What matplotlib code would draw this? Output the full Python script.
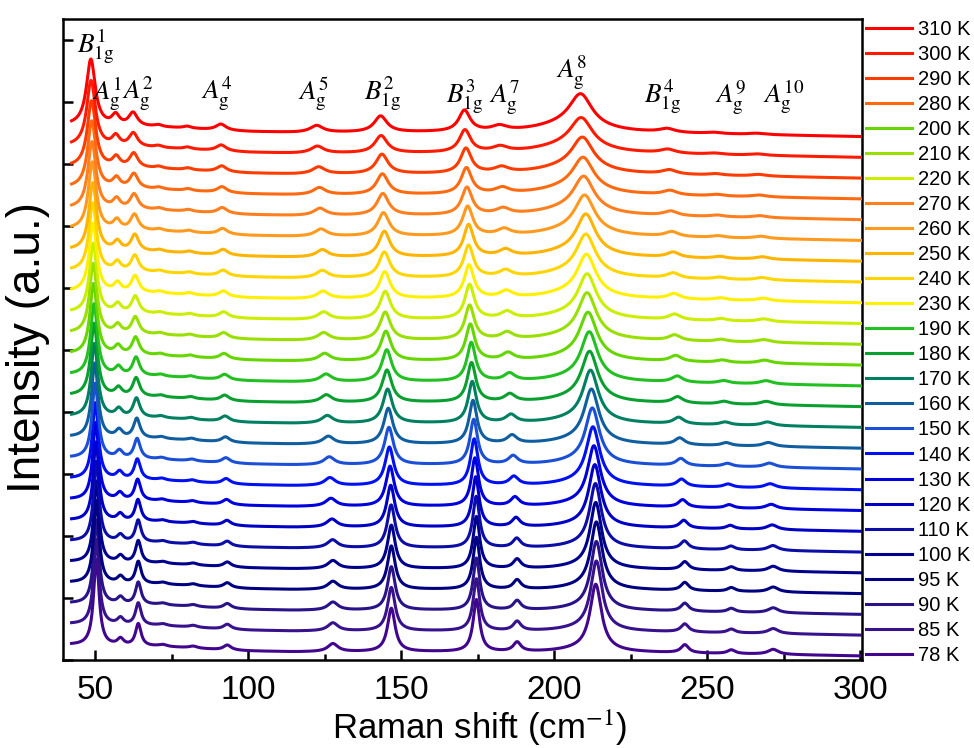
import numpy as np
import matplotlib.pyplot as plt
from matplotlib.lines import Line2D

plt.rcParams['font.family'] = ['Liberation Sans', 'DejaVu Sans']
plt.rcParams['mathtext.fontset'] = 'stix'

# temperatures, bottom curve first
temps = [78, 85, 90, 95, 100, 110, 120, 130, 140, 150, 160, 170, 180, 190,
         200, 210, 220, 230, 240, 250, 260, 270, 280, 290, 300, 310]

colors = {310: '#ff0000', 300: '#ff1a00', 290: '#ff3c00', 280: '#ff6a10',
          270: '#ff7f1e', 260: '#ff9a1e', 250: '#ffb400', 240: '#ffd500',
          230: '#fff000', 220: '#ccee00', 210: '#99e000', 200: '#66d600',
          190: '#22c020', 180: '#0aa030', 170: '#008060', 160: '#105ea0',
          150: '#1a4fd6', 140: '#0010f0', 130: '#0000dd', 120: '#0000c4',
          110: '#0c0ca6', 100: '#00008c', 95: '#000080', 90: '#2a1288',
          85: '#38128c', 78: '#42068e'}

legend_order = [310, 300, 290, 280, 200, 210, 220, 270, 260, 250, 240, 230,
                190, 180, 170, 160, 150, 140, 130, 120, 110, 100, 95, 90, 85, 78]

# A_g^8 peak centre (cm-1) and heights read per curve (in units of one y tick)
ag8_center = [213.5, 213.7, 213.7, 213.7, 213.5, 213.4, 213.2, 212.9, 212.6,
              212.4, 212.1, 211.8, 211.5, 211.4, 211.0, 210.7, 210.7, 210.5,
              210.3, 210.3, 209.9, 209.6, 209.4, 209.2, 208.8, 208.6]
ag8_height = [1.06, 1.10, 1.08, 1.06, 1.04, 1.01, 0.98, 0.95, 0.92, 0.89,
              0.86, 0.83, 0.80, 0.78, 0.76, 0.74, 0.71, 0.69, 0.68, 0.67,
              0.64, 0.61, 0.58, 0.57, 0.55, 0.60]
b1g1_height = [1.40, 1.38, 1.36, 1.34, 1.32, 1.30, 1.28, 1.26, 1.24, 1.22,
               1.21, 1.19, 1.18, 1.16, 1.15, 1.14, 1.13, 1.12, 1.11, 1.10,
               1.10, 1.09, 1.09, 1.08, 1.07, 1.08]

# other modes: centre hot/cold, height hot/cold, width hot/cold
peak_names = ['B1g1', 'Ag1', 'Ag2', 'x70', 'x80', 'Ag4', 'Ag5', 'B1g2', 'B1g3',
              'Ag7', 'B1g4', 'Ag9', 'Ag10']
c_hot = [48.5, 56.6, 62.3, 70.5, 80.0, 91.0, 122.3, 143.2, 170.6, 182.0, 236.8, 252.0, 266.0]
c_cold = [50.3, 58.2, 64.0, 72.0, 82.0, 93.1, 127.6, 146.7, 174.5, 187.8, 242.6, 257.8, 271.5]
h_hot = [0, 0.17, 0.22, 0.03, 0.03, 0.10, 0.11, 0.26, 0.34, 0.08, 0.06, 0.02, 0.02]
h_cold = [0, 0.11, 0.36, 0.03, 0.03, 0.08, 0.13, 0.70, 0.84, 0.15, 0.13, 0.06, 0.08]
w_hot = [3.5, 3.0, 3.5, 3.0, 3.0, 4.0, 5.0, 5.0, 4.5, 6.0, 6.0, 6.0, 6.0]
w_cold = [2.2, 2.5, 2.2, 3.0, 3.0, 3.0, 4.0, 3.0, 2.6, 3.0, 3.0, 3.0, 4.0]

# background above the right-hand end, in y-tick units
bg_x = [40, 50, 60, 70, 80, 90, 100, 115, 130, 160, 190, 230, 270, 300]
bg_y = [0.18, 0.16, 0.15, 0.15, 0.13, 0.10, 0.08, 0.065, 0.065, 0.065, 0.055, 0.05, 0.025, 0.0]

offset0 = 0.065
spacing = 0.335


def lor(x, c, h, w):
    return h * (w / 2) ** 2 / ((x - c) ** 2 + (w / 2) ** 2)


x = np.linspace(42.2, 300, 2600)
c8_hot, c8_cold = ag8_center[-1], ag8_center[0]

fig = plt.figure(figsize=(9.74, 7.48), dpi=100)
ax = fig.add_axes([0.065, 0.1176, 0.820, 0.857])

for k, T in enumerate(temps):
    f = np.clip((ag8_center[k] - c8_hot) / (c8_cold - c8_hot), 0, 1)
    y = offset0 + spacing * k + np.interp(x, bg_x, bg_y)
    for j in range(len(peak_names)):
        c = c_hot[j] + f * (c_cold[j] - c_hot[j])
        w = w_hot[j] + f * (w_cold[j] - w_hot[j])
        h = h_hot[j] + f * (h_cold[j] - h_hot[j])
        if peak_names[j] == 'B1g1':
            h = b1g1_height[k]
        y += lor(x, c, h, w)
    # A_g^8 main line plus broad shoulder
    y += lor(x, ag8_center[k], ag8_height[k] - 0.08 * (1 - f), 9.0 - 4.5 * f)
    y += lor(x, ag8_center[k] - 4, 0.13 - 0.08 * f, 26 - 6 * f)
    ax.plot(x, y, color=colors[T], lw=2.2, zorder=2 + k)

ax.set_xlim(39.5, 300.5)
ax.set_ylim(0, 10.34)
ax.set_xticks([50, 100, 150, 200, 250, 300])
ax.set_xticks([75, 125, 175, 225, 275], minor=True)
ax.set_yticks(np.arange(0, 11))
ax.set_yticklabels([])
ax.tick_params(axis='both', which='major', direction='in', length=7, width=1.8,
               labelsize=24)
ax.tick_params(axis='x', which='minor', direction='in', length=4.5, width=1.8)
ax.tick_params(axis='x', pad=11)
for s in ax.spines.values():
    s.set_linewidth(1.8)

ax.set_xlabel(r'Raman shift (cm$^{-1}$)', fontsize=25)
ax.xaxis.set_label_coords(0.521, -0.074)
ax.set_ylabel('Intensity (a.u.)', fontsize=33)
ax.yaxis.set_label_coords(-0.017, 0.488)

# mode labels
mode_labels = [r'$B_{\mathrm{1g}}^{1}$', r'$A_{\mathrm{g}}^{1}$', r'$A_{\mathrm{g}}^{2}$',
               r'$A_{\mathrm{g}}^{4}$', r'$A_{\mathrm{g}}^{5}$', r'$B_{\mathrm{1g}}^{2}$',
               r'$B_{\mathrm{1g}}^{3}$', r'$A_{\mathrm{g}}^{7}$', r'$A_{\mathrm{g}}^{8}$',
               r'$B_{\mathrm{1g}}^{4}$', r'$A_{\mathrm{g}}^{9}$', r'$A_{\mathrm{g}}^{10}$']
label_x = [49.9, 53.9, 63.8, 89.8, 121.3, 143.7, 170.7, 183.7, 205.8, 235.2, 257.8, 274.8]
label_y = [9.90, 9.14, 9.14, 9.14, 9.14, 9.14, 9.08, 9.08, 9.48, 9.08, 9.08, 9.08]
for lab, lx, ly in zip(mode_labels, label_x, label_y):
    ax.text(lx, ly, lab, fontsize=19.5, ha='center', va='center', zorder=40)

handles = [Line2D([], [], color=colors[T], lw=2.2) for T in legend_order]
ax.legend(handles, [f'{T} K' for T in legend_order], loc='upper left',
          bbox_to_anchor=(1.0, 1.005), frameon=False, fontsize=14.5,
          handlelength=2.29, handletextpad=0.3, labelspacing=0.30,
          borderaxespad=0.1, borderpad=0.1)

fig.savefig('out.png', dpi=100)
